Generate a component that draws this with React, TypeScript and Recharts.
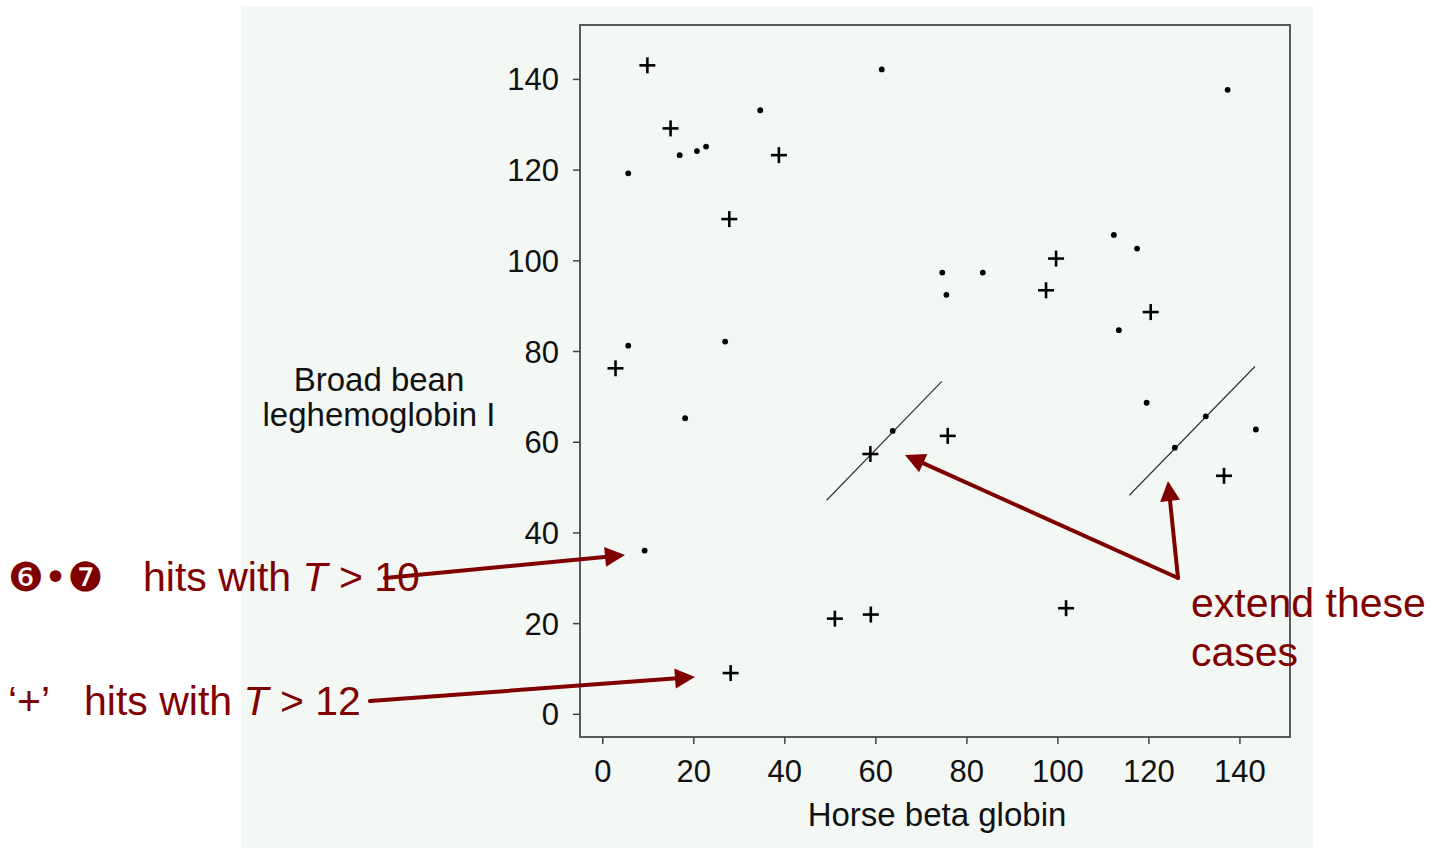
import React from 'react';
import {
  ScatterChart,
  Scatter,
  XAxis,
  YAxis,
  ReferenceArea,
  ReferenceLine,
} from 'recharts';

// hits (x = horse beta globin, y = broad bean leghemoglobin I)
const dotHits = [
  { x: 5.6, y: 119.3 }, { x: 16.9, y: 123.3 }, { x: 20.7, y: 124.2 }, { x: 22.7, y: 125.2 },
  { x: 34.6, y: 133.2 }, { x: 61.3, y: 142.2 }, { x: 5.6, y: 81.3 }, { x: 26.9, y: 82.2 },
  { x: 18.1, y: 65.3 }, { x: 63.7, y: 62.5 }, { x: 9.2, y: 36.1 }, { x: 137.3, y: 137.7 },
  { x: 112.3, y: 105.7 }, { x: 117.4, y: 102.7 }, { x: 74.6, y: 97.4 }, { x: 83.5, y: 97.4 },
  { x: 75.5, y: 92.5 }, { x: 113.4, y: 84.7 }, { x: 119.5, y: 68.7 }, { x: 132.5, y: 65.7 },
  { x: 125.7, y: 58.8 }, { x: 143.5, y: 62.8 },
];

const plusHits = [
  { x: 9.8, y: 143.1 }, { x: 14.9, y: 129.2 }, { x: 38.7, y: 123.3 }, { x: 27.8, y: 109.2 },
  { x: 2.8, y: 76.3 }, { x: 99.6, y: 100.5 }, { x: 97.4, y: 93.5 }, { x: 120.4, y: 88.7 },
  { x: 58.8, y: 57.4 }, { x: 75.8, y: 61.4 }, { x: 136.5, y: 52.6 }, { x: 51, y: 21.1 },
  { x: 58.9, y: 22.0 }, { x: 101.8, y: 23.4 }, { x: 28.1, y: 9.1 },
];

// diagonal runs to extend
const diagonalA = [{ x: 49.2, y: 47.2 }, { x: 74.5, y: 73.4 }];
const diagonalB = [{ x: 115.7, y: 48.3 }, { x: 143.3, y: 76.7 }];

const xTicks = [0, 20, 40, 60, 80, 100, 120, 140];
const yTicks = [0, 20, 40, 60, 80, 100, 120, 140];

const RED = '#800000';
const FONT = '"Liberation Sans", Arial, Helvetica, sans-serif';

const Dot = (props: any) => {
  const { cx, cy } = props;
  return <circle cx={cx} cy={cy} r={2.9} fill="#000" />;
};

const Plus = (props: any) => {
  const { cx, cy } = props;
  const h = 8;
  return (
    <g stroke="#000" strokeWidth={2.6}>
      <line x1={cx - h} y1={cy} x2={cx + h} y2={cy} />
      <line x1={cx} y1={cy - h} x2={cx} y2={cy + h} />
    </g>
  );
};

// red annotation arrow, tail -> tip in page pixels
const Arrow = ({ x1, y1, x2, y2 }: any) => {
  const len = Math.hypot(x2 - x1, y2 - y1);
  const ux = (x2 - x1) / len;
  const uy = (y2 - y1) / len;
  const headLen = 20;
  const headW = 10;
  const bx = x2 - ux * headLen;
  const by = y2 - uy * headLen;
  const pts = [
    `${x2},${y2}`,
    `${bx - uy * headW},${by + ux * headW}`,
    `${bx + uy * headW},${by - ux * headW}`,
  ].join(' ');
  return (
    <g>
      <line x1={x1} y1={y1} x2={bx + ux * 2} y2={by + uy * 2} stroke={RED} strokeWidth={4} strokeLinecap="round" />
      <polygon points={pts} fill={RED} />
    </g>
  );
};

export default function App() {
  return (
    <div style={{ position: 'absolute', left: 0, top: 0, width: 1445, height: 848, background: '#fff', fontFamily: FONT }}>
      {/* scanned figure background */}
      <div style={{ position: 'absolute', left: 241, top: 6, width: 1072, height: 842, background: '#f3f8f5' }} />

      <div style={{ position: 'absolute', left: 0, top: 0 }}>
        <ScatterChart width={1445} height={848} margin={{ top: 25, right: 155, bottom: 51, left: 520 }}>
          <XAxis
            type="number"
            dataKey="x"
            domain={[-5, 151]}
            ticks={xTicks}
            allowDataOverflow
            height={60}
            axisLine={false}
            tickSize={7}
            tickMargin={16}
            tickLine={{ stroke: '#444', strokeWidth: 1.5 }}
            tick={{ fontSize: 31, fill: '#111', fontFamily: FONT }}
          />
          <YAxis
            type="number"
            dataKey="y"
            domain={[-5, 152]}
            ticks={yTicks}
            allowDataOverflow
            width={60}
            axisLine={false}
            tickSize={7}
            tickMargin={14}
            tickLine={{ stroke: '#444', strokeWidth: 1.5 }}
            tick={{ fontSize: 31, fill: '#111', fontFamily: FONT }}
          />
          <ReferenceArea
            x1={-5}
            x2={151}
            y1={-5}
            y2={152}
            fill="none"
            fillOpacity={0}
            stroke="#5a5a5a"
            strokeWidth={2}
            ifOverflow="visible"
          />
          <ReferenceLine segment={diagonalA} stroke="#333" strokeWidth={1.2} />
          <ReferenceLine segment={diagonalB} stroke="#333" strokeWidth={1.2} />
          <Scatter data={dotHits} shape={Dot} isAnimationActive={false} />
          <Scatter data={plusHits} shape={Plus} isAnimationActive={false} />
        </ScatterChart>
      </div>

      <svg width={1445} height={848} style={{ position: 'absolute', left: 0, top: 0, pointerEvents: 'none' }}>
        {/* axis titles */}
        <g fill="#111" fontFamily={FONT} fontSize={33} textAnchor="middle">
          <text x={379} y={391}>Broad bean</text>
          <text x={379} y={426}>leghemoglobin I</text>
          <text x={937} y={826}>Horse beta globin</text>
        </g>

        {/* annotations */}
        <g fill={RED} fontFamily={FONT} fontSize={41}>
          <text x={8} y={591} fontFamily='"DejaVu Sans", sans-serif' fontSize={40}>❻•❼</text>
          <text x={143} y={591}>
            hits with <tspan fontStyle="italic">T</tspan> &gt; 10
          </text>
          <text x={8} y={715}>‘+’</text>
          <text x={84} y={715}>
            hits with <tspan fontStyle="italic">T</tspan> &gt; 12
          </text>
          <text x={1191} y={617}>extend these</text>
          <text x={1191} y={666}>cases</text>
        </g>

        <Arrow x1={385} y1={578} x2={625} y2={555} />
        <Arrow x1={370} y1={701} x2={695} y2={677} />
        <Arrow x1={1178} y1={578} x2={905} y2={455} />
        <Arrow x1={1178} y1={578} x2={1168} y2={481} />
      </svg>
    </div>
  );
}
